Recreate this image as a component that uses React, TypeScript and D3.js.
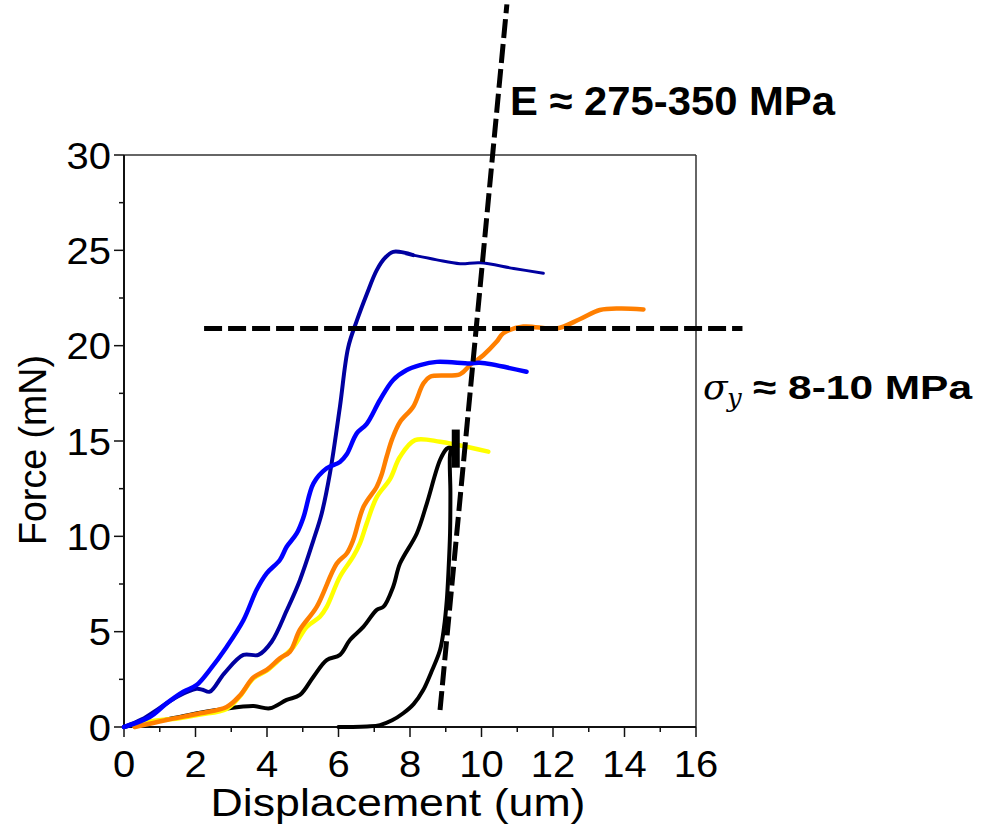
import * as d3 from 'd3';

// curve data: [displacement um, force mN]
const navyRise: [number, number][] = [
  [0, 0], [0.5, 0.4], [1.0, 1.0], [1.5, 1.6], [2.03, 2.0], [2.2, 1.95], [2.4, 1.85],
  [2.8, 2.8], [3.34, 3.78], [3.76, 3.78], [4.13, 4.47], [4.55, 6.1], [4.92, 7.7],
  [5.3, 9.8], [5.53, 11.2], [5.76, 13.3], [6.04, 16.8], [6.27, 19.9], [6.51, 21.3],
  [6.79, 22.7], [7.07, 23.96], [7.3, 24.6], [7.53, 24.92], [8.09, 24.75],
];
const navyPlateau: [number, number][] = [
  [8.09, 24.75], [8.75, 24.5], [9.4, 24.3], [9.96, 24.35], [10.9, 24.05], [11.73, 23.8],
];
const blue: [number, number][] = [
  [0, 0], [0.73, 0.54], [1.19, 1.24], [1.66, 1.85], [2.03, 2.2], [2.4, 3.0], [2.87, 4.2],
  [3.34, 5.6], [3.71, 7.2], [3.99, 8.06], [4.36, 8.76], [4.55, 9.45], [4.83, 10.15],
  [5.02, 11.0], [5.3, 12.78], [5.67, 13.57], [6.04, 13.9], [6.23, 14.3], [6.51, 15.4],
  [6.79, 15.9], [7.16, 17.15], [7.53, 18.2], [7.91, 18.72], [8.28, 18.98], [8.75, 19.15],
  [9.68, 19.07], [9.96, 19.1], [11.26, 18.63],
];
const orange: [number, number][] = [
  [0.3, 0], [1.19, 0.37], [2.13, 0.72], [2.87, 1.05], [3.24, 1.65], [3.62, 2.6],
  [3.99, 3.0], [4.36, 3.6], [4.64, 3.95], [4.92, 5.1], [5.39, 6.3], [5.95, 8.57],
  [6.23, 9.1], [6.41, 9.8], [6.7, 11.55], [7.07, 12.6], [7.2, 13.2], [7.35, 14.2],
  [7.5, 15.1], [7.72, 16.0], [8.09, 16.8], [8.37, 18.0], [8.56, 18.37], [9.4, 18.5],
  [9.68, 18.98], [10.05, 19.5], [10.42, 20.2], [10.61, 20.65], [11.17, 21.0], [12.1, 20.9],
  [12.76, 21.4], [13.31, 21.87], [13.87, 21.95], [14.53, 21.9],
];
const yellow: [number, number][] = [
  [0.3, 0], [0.73, 0.28], [1.5, 0.45], [2.13, 0.65], [2.87, 0.95], [3.24, 1.6],
  [3.62, 2.55], [3.99, 2.95], [4.36, 3.55], [4.74, 4.2], [5.11, 5.25], [5.48, 5.78],
  [5.67, 6.3], [6.04, 7.88], [6.41, 8.93], [6.6, 9.63], [6.79, 10.68], [7.07, 12.06],
  [7.44, 13.0], [7.72, 14.17], [8.14, 15.05], [8.84, 14.96], [9.3, 14.8], [10.19, 14.44],
];
const blackLoad: [number, number][] = [
  [0, 0], [0.5, 0.2], [1.2, 0.4], [2.13, 0.75], [2.8, 0.95], [3.62, 1.1], [4.08, 0.98],
  [4.55, 1.42], [4.92, 1.68], [5.3, 2.64], [5.67, 3.51], [6.04, 3.78], [6.32, 4.56],
  [6.7, 5.26], [7.07, 6.14], [7.26, 6.31], [7.53, 7.36], [7.72, 8.57], [8.19, 10.15],
  [8.47, 11.72], [8.84, 14.0], [9.03, 14.6], [9.17, 14.7],
];
const blackUnload: [number, number][] = [
  [9.17, 14.7], [9.12, 14.3], [9.13, 12.3], [9.12, 10.15], [9.08, 8.3], [9.03, 6.66],
  [8.95, 5.2], [8.84, 4.04], [8.6, 2.9], [8.37, 1.94], [8.1, 1.2], [7.81, 0.72],
  [7.5, 0.35], [7.16, 0.1], [6.8, 0.03], [6.4, 0], [6.0, 0],
];
const blackHold: [number, number][] = [[9.28, 13.6], [9.28, 15.6]];

// guide lines (data coords, extended past the frame)
const yieldLine: [number, number][] = [[2.24, 20.9], [17.3, 20.9]];
const modulusLine: [number, number][] = [[8.84, 0.89], [10.71, 37.9]];

const xTicks = [0, 2, 4, 6, 8, 10, 12, 14, 16];
const yTicks = [0, 5, 10, 15, 20, 25, 30];

const font = 'Liberation Sans, Arial, sans-serif';

export default function App() {
  const x = d3.scaleLinear().domain([0, 16]).range([124, 696]);
  const y = d3.scaleLinear().domain([0, 30]).range([727, 155]);
  const line = d3.line<[number, number]>().x(d => x(d[0])).y(d => y(d[1]));
  const smooth = d3.line<[number, number]>().x(d => x(d[0])).y(d => y(d[1]))
    .curve(d3.curveCatmullRom.alpha(0.5));

  const xMinor = d3.range(0, 16.01, 1);
  const yMinor = d3.range(0, 30.01, 2.5);

  const curves = [
    { d: blackLoad, c: '#000', w: 4 },
    { d: blackUnload, c: '#000', w: 4 },
    { d: yellow, c: '#ffff00', w: 4.5 },
    { d: orange, c: '#ff7f00', w: 4.5 },
    { d: navyRise, c: '#0000a0', w: 4 },
    { d: navyPlateau, c: '#0000a0', w: 3 },
    { d: blue, c: '#0000ff', w: 4.5 },
  ];

  return (
    <svg width={982} height={832} style={{ position: 'absolute', left: 0, top: 0, background: '#fff' }}>
      {/* frame */}
      <line x1={x(0)} x2={x(16)} y1={y(30)} y2={y(30)} stroke="#333" strokeWidth={1.5} />
      <line x1={x(16)} x2={x(16)} y1={y(30)} y2={y(0)} stroke="#333" strokeWidth={1.5} />
      <line x1={x(0)} x2={x(16)} y1={y(0)} y2={y(0)} stroke="#111" strokeWidth={2} />
      <line x1={x(0)} x2={x(0)} y1={y(30)} y2={y(0)} stroke="#111" strokeWidth={2} />

      {/* ticks */}
      {xMinor.map(v => (
        <line key={'xm' + v} x1={x(v)} x2={x(v)} y1={y(0)} y2={y(0) + (v % 2 === 0 ? 10 : 5)} stroke="#111" strokeWidth={1.5} />
      ))}
      {yMinor.map(v => (
        <line key={'ym' + v} x1={x(0)} x2={x(0) - (v % 5 === 0 ? 10 : 5)} y1={y(v)} y2={y(v)} stroke="#111" strokeWidth={1.5} />
      ))}
      {xTicks.map(v => (
        <text key={'xt' + v} transform={`translate(${x(v)},${y(0) + 50}) scale(1.08,1)`} textAnchor="middle"
          fontFamily={font} fontSize={37}>{v}</text>
      ))}
      {yTicks.map(v => (
        <text key={'yt' + v} transform={`translate(${x(0) - 13},${y(v) + 13.5}) scale(1.08,1)`} textAnchor="end"
          fontFamily={font} fontSize={37}>{v}</text>
      ))}

      {/* axis titles */}
      <text x={398} y={816} textAnchor="middle" fontFamily={font} fontSize={38}
        textLength={375} lengthAdjust="spacingAndGlyphs">Displacement (um)</text>
      <text transform="translate(46,450) rotate(-90)" textAnchor="middle" fontFamily={font} fontSize={39}
        textLength={190} lengthAdjust="spacingAndGlyphs">Force (mN)</text>

      {/* curves */}
      {curves.map((c, i) => (
        <path key={i} d={smooth(c.d) || ''} fill="none" stroke={c.c} strokeWidth={c.w}
          strokeLinejoin="round" strokeLinecap="round" />
      ))}
      <path d={line(blackHold) || ''} stroke="#000" strokeWidth={8} fill="none" />

      {/* guide lines */}
      <path d={line(yieldLine) || ''} stroke="#000" strokeWidth={5} strokeDasharray="18 6" fill="none" />
      <path d={line(modulusLine) || ''} stroke="#000" strokeWidth={5} strokeDasharray="19 6" fill="none" />

      {/* annotations */}
      <text x={510} y={115} fontFamily={font} fontSize={41} fontWeight="bold"
        textLength={325} lengthAdjust="spacingAndGlyphs">E ≈ 275-350 MPa</text>
      <text x={703} y={399} fontFamily="DejaVu Serif, serif" fontStyle="italic" fontSize={36}>σ</text>
      <text x={727} y={407} fontFamily="DejaVu Serif, serif" fontStyle="italic" fontSize={26}>y</text>
      <text x={753} y={399} fontFamily={font} fontSize={34} fontWeight="bold"
        textLength={219} lengthAdjust="spacingAndGlyphs">≈ 8-10 MPa</text>
    </svg>
  );
}
